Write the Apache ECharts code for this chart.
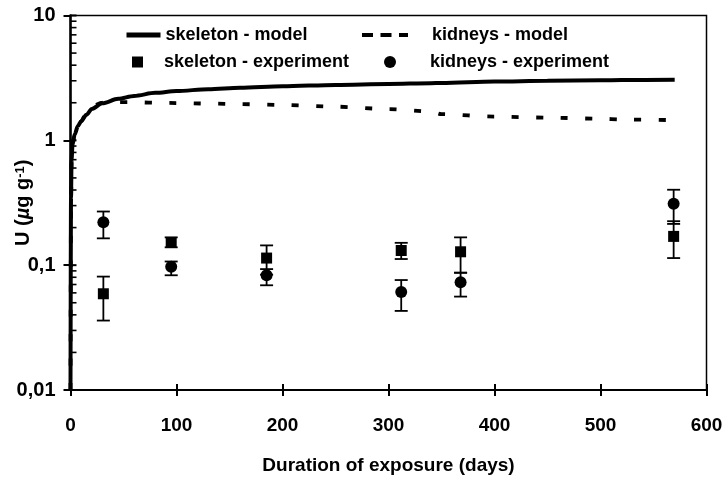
<!DOCTYPE html>
<html>
<head>
<meta charset="utf-8">
<script src="https://cdn.jsdelivr.net/npm/echarts@6/dist/echarts.min.js"></script>
<style>
html,body{margin:0;padding:0;background:#fff;}
#chart{width:728px;height:495px;}
</style>
</head>
<body>
<div id="chart"></div>
<script>
// ---- data ----
const modelDays      = [0, 0.5, 1, 2, 4, 7, 10, 15, 20, 30, 45, 60, 80, 100, 130, 160, 200, 250, 300, 340, 350, 400, 450, 500, 520, 570];
const skeletonModel  = [0.01, 0.35, 0.7, 0.95, 1.12, 1.3, 1.42, 1.6, 1.78, 1.98, 2.15, 2.27, 2.4, 2.48, 2.57, 2.64, 2.71, 2.78, 2.83, 2.87, 2.88, 2.96, 3.0, 3.03, 3.04, 3.06];
const kidneysModel   = [0.01, 0.33, 0.68, 0.93, 1.1, 1.28, 1.42, 1.66, 1.88, 2.0, 2.02, 2.02, 2.0, 1.99, 1.97, 1.95, 1.92, 1.86, 1.78, 1.70, 1.62, 1.55, 1.52, 1.49, 1.47, 1.45];

const expDays        = [31, 95, 185, 312, 368, 569];
const skeletonExp    = [0.059, 0.152, 0.114, 0.131, 0.128, 0.170];
const skeletonLow    = [0.036, 0.139, 0.084, 0.112, 0.087, 0.114];
const skeletonHigh   = [0.081, 0.167, 0.144, 0.151, 0.167, 0.225];
const kidneysExp     = [0.221, 0.097, 0.083, 0.061, 0.073, 0.310];
const kidneysLow     = [0.164, 0.083, 0.069, 0.043, 0.056, 0.214];
const kidneysHigh    = [0.269, 0.107, 0.093, 0.076, 0.087, 0.402];

const yTickValues    = [0.01, 0.1, 1, 10];
const yTickLabels    = ['0,01', '0,1', '1', '10'];
const yMinorTicks    = [0.02,0.03,0.04,0.05,0.06,0.07,0.08,0.09, 0.2,0.3,0.4,0.5,0.6,0.7,0.8,0.9, 2,3,4,5,6,7,8,9];

const FONT = "'Liberation Sans', Arial, Helvetica, sans-serif";

const chart = echarts.init(document.getElementById('chart'), null, {renderer: 'canvas'});

function pairs(xs, ys) { return xs.map((x, i) => [x, ys[i]]); }

function errorBarRender(params, api) {
  const x = api.value(0);
  const lo = api.coord([x, api.value(1)]);
  const hi = api.coord([x, api.value(2)]);
  const hw = 6.5;
  const st = {stroke: '#000', lineWidth: 1.8};
  return {
    type: 'group',
    children: [
      {type: 'line', shape: {x1: lo[0], y1: lo[1], x2: hi[0], y2: hi[1]}, style: st},
      {type: 'line', shape: {x1: lo[0]-hw, y1: lo[1], x2: lo[0]+hw, y2: lo[1]}, style: st},
      {type: 'line', shape: {x1: hi[0]-hw, y1: hi[1], x2: hi[0]+hw, y2: hi[1]}, style: st}
    ]
  };
}

const legendText = {color: '#000', fontSize: 18, fontWeight: 'bold', fontFamily: FONT};

const option = {
  animation: false,
  backgroundColor: '#fff',
  grid: {left: 70.5, right: 21.5, top: 15.5, bottom: 105, show: true, borderColor: '#000', borderWidth: 1.5, backgroundColor: 'transparent', containLabel: false, outerBoundsMode: 'none'},
  legend: [
    {data: [{name: 'skeleton - model', itemStyle: {opacity: 0}, lineStyle: {width: 5, color: '#000'}}], left: 124, top: 26, padding: 0, itemWidth: 34, itemHeight: 18, textStyle: legendText, selectedMode: false},
    {data: [{name: 'kidneys - model', itemStyle: {opacity: 0}, lineStyle: {type: [11, 7.5], width: 4, color: '#000'}}], left: 360, top: 26, padding: 0, itemWidth: 46, itemHeight: 18, textStyle: Object.assign({padding: [0,0,0,19]}, legendText), selectedMode: false},
    {data: [{name: 'skeleton - experiment', icon: 'rect', itemStyle: {opacity: 1, color: '#000'}}], left: 132, top: 53, padding: 0, itemWidth: 11, itemHeight: 11, textStyle: Object.assign({padding: [0,0,0,16]}, legendText), selectedMode: false},
    {data: [{name: 'kidneys - experiment', icon: 'circle', itemStyle: {opacity: 1, color: '#000'}}], left: 384, top: 53, padding: 0, itemWidth: 12, itemHeight: 12, textStyle: Object.assign({padding: [0,0,0,29]}, legendText), selectedMode: false}
  ],
  xAxis: [
    {
      type: 'value', min: 0, max: 600, interval: 100,
      name: 'Duration of exposure (days)', nameLocation: 'middle', nameGap: 66, nameMoveOverlap: false,
      nameTextStyle: {color: '#000', fontSize: 19, fontWeight: 'bold', fontFamily: FONT},
      axisLine: {show: true, onZero: false, lineStyle: {color: '#000', width: 2}},
      axisTick: {show: true, inside: false, length: 6, lineStyle: {color: '#000', width: 2}},
      axisLabel: {color: '#000', fontSize: 19, fontWeight: 'bold', fontFamily: FONT, margin: 26},
      splitLine: {show: false}
    },
    {
      type: 'value', min: 0, max: 600, interval: 100, position: 'bottom',
      axisLine: {show: false},
      axisTick: {show: true, inside: true, length: 6, lineStyle: {color: '#000', width: 2}},
      axisLabel: {show: false},
      splitLine: {show: false}
    }
  ],
  yAxis: {
    type: 'log', logBase: 10, min: 0.01, max: 10,
    name: '{a|U (}{m|µ}{a|g g}{s|-1}{a|)}', nameLocation: 'middle', nameGap: 37, nameRotate: 90, nameMoveOverlap: false,
    nameTextStyle: {
      color: '#000', fontSize: 20, fontWeight: 'bold', fontFamily: FONT,
      rich: {
        a: {color: '#000', fontSize: 20, fontWeight: 'bold', fontFamily: FONT},
        m: {color: '#000', fontSize: 20, fontWeight: 'bold', fontStyle: 'italic', fontFamily: FONT},
        s: {color: '#000', fontSize: 13, fontWeight: 'bold', fontFamily: FONT, verticalAlign: 'top', padding: [0, 0, 6, 0]}
      }
    },
    axisLine: {show: true, lineStyle: {color: '#000', width: 2.5}},
    axisTick: {show: true, inside: false, length: 7, lineStyle: {color: '#000', width: 2}},
    axisLabel: {
      color: '#000', fontSize: 20, fontWeight: 'bold', fontFamily: FONT, margin: 15,
      formatter: function (v) {
        const i = yTickValues.findIndex(t => Math.abs(Math.log10(t) - Math.log10(v)) < 1e-6);
        return i >= 0 ? yTickLabels[i] : '';
      }
    },
    splitLine: {show: false}
  },
  series: [
    {
      name: 'skeleton - model', type: 'line', data: pairs(modelDays, skeletonModel),
      symbol: 'none', smooth: 0.3, smoothMonotone: 'x',
      lineStyle: {color: '#000', width: 4}, itemStyle: {color: '#000'}, z: 3
    },
    {
      name: 'kidneys - model', type: 'line', data: pairs(modelDays, kidneysModel),
      symbol: 'none', smooth: 0.3, smoothMonotone: 'x',
      lineStyle: {color: '#000', width: 3.8, type: [7, 17.5]}, itemStyle: {color: '#000'}, z: 2
    },
    {
      name: 'skeleton error', type: 'custom', renderItem: errorBarRender,
      data: expDays.map((x, i) => [x, skeletonLow[i], skeletonHigh[i]]),
      encode: {x: 0, y: [1, 2]}, z: 4, silent: true
    },
    {
      name: 'kidneys error', type: 'custom', renderItem: errorBarRender,
      data: expDays.map((x, i) => [x, kidneysLow[i], kidneysHigh[i]]),
      encode: {x: 0, y: [1, 2]}, z: 4, silent: true
    },
    {
      name: 'skeleton - experiment', type: 'scatter', data: pairs(expDays, skeletonExp),
      symbol: 'rect', symbolSize: 11, itemStyle: {color: '#000', opacity: 1}, z: 5
    },
    {
      name: 'kidneys - experiment', type: 'scatter', data: pairs(expDays, kidneysExp),
      symbol: 'circle', symbolSize: 12, itemStyle: {color: '#000', opacity: 1}, z: 5
    },
    {
      name: 'minor ticks', type: 'custom', silent: true, clip: false,
      data: yMinorTicks.map(v => [0, v]),
      encode: {x: 0, y: 1},
      renderItem: function (params, api) {
        const p = api.coord([api.value(0), api.value(1)]);
        return {type: 'line', shape: {x1: p[0], y1: p[1], x2: p[0] + 6, y2: p[1]}, style: {stroke: '#000', lineWidth: 1.6}};
      }, z: 6
    },
    {
      name: 'major inner ticks', type: 'custom', silent: true, clip: false,
      data: yTickValues.map(v => [0, v]),
      encode: {x: 0, y: 1},
      renderItem: function (params, api) {
        const p = api.coord([api.value(0), api.value(1)]);
        return {type: 'line', shape: {x1: p[0], y1: p[1], x2: p[0] + 6, y2: p[1]}, style: {stroke: '#000', lineWidth: 2}};
      }, z: 6
    }
  ]
};
chart.setOption(option);
</script>
</body>
</html>
